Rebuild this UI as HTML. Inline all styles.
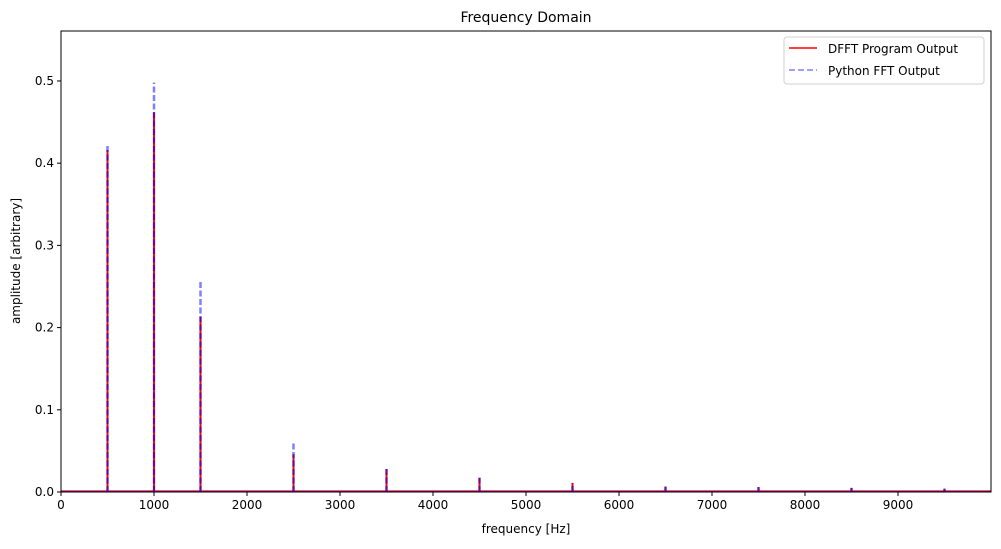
<!DOCTYPE html>
<html><head><meta charset="utf-8"><style>
body{margin:0;background:#fff;font-family:"DejaVu Sans","Liberation Sans",sans-serif;}
svg text{font-family:"DejaVu Sans","Liberation Sans",sans-serif;fill:#000}
</style></head><body>
<svg id="chart" width="1001" height="545" xmlns="http://www.w3.org/2000/svg">
<rect width="1001" height="545" fill="#fff"/>
<g id="plot"></g>
<rect x="61" y="31" width="930" height="461" fill="none" stroke="#000" stroke-width="1"/>
<text x="526" y="22" font-size="14" text-anchor="middle">Frequency Domain</text>
<text x="526" y="533" font-size="12" text-anchor="middle">frequency [Hz]</text>
<text transform="translate(20,261) rotate(-90)" font-size="12" text-anchor="middle">amplitude [arbitrary]</text>
<g id="axes"></g>
<g>
<rect x="784" y="37" width="200" height="47" rx="3" fill="#fff" stroke="#ccc" stroke-opacity="0.9"/>
<line x1="789" y1="48" x2="817" y2="48" stroke="red" stroke-width="1.6"/>
<text x="828" y="53" font-size="12">DFFT Program Output</text>
<line x1="789" y1="70" x2="817" y2="70" stroke="#0000ff" stroke-opacity="0.5" stroke-width="1.6" stroke-dasharray="6,3"/>
<text x="828" y="75" font-size="12">Python FFT Output</text>
</g>
</svg>
<script>
const freqs=[500,1000,1500,2500,3500,4500,5500,6500,7500,8500,9500];
const pyVals=[0.422,0.498,0.256,0.061,0.029,0.018,0.011,0.007,0.006,0.005,0.004];
const dfftVals=[0.416,0.462,0.213,0.046,0.028,0.017,0.011,0.006,0.006,0.005,0.004];
const xTicks=[0,1000,2000,3000,4000,5000,6000,7000,8000,9000];
const yTicks=[0,0.1,0.2,0.3,0.4,0.5];
const X0=61,X1=991,Y0=492,Y1=31,XMAX=10000,YMAX=0.5608;
const xs=v=>X0+(v/XMAX)*(X1-X0);
const ys=v=>Y0-(v/YMAX)*(Y0-Y1);
const NS="http://www.w3.org/2000/svg";
const plot=document.getElementById('plot'),axes=document.getElementById('axes');
function mk(t,a,p){const e=document.createElementNS(NS,t);for(const k in a)e.setAttribute(k,a[k]);p.appendChild(e);return e;}
const base=mk('line',{x1:X0,y1:ys(0.001),x2:X1,y2:ys(0.001),stroke:'#c00050','stroke-width':1.5},plot);


freqs.forEach((f,i)=>{const x=xs(f);
const r=mk('line',{x1:x,y1:Y0,x2:x,y2:ys(dfftVals[i]),stroke:'red','stroke-width':2},plot);


const b=mk('line',{x1:x,y1:Y0,x2:x,y2:ys(pyVals[i]),stroke:'#0000ff','stroke-opacity':0.5,'stroke-width':2.5,'stroke-dasharray':'6,2.5'},plot);

});
xTicks.forEach(t=>{const x=xs(t);
mk('line',{x1:x,y1:Y0,x2:x,y2:Y0+4,stroke:'#000'},axes);
const tx=mk('text',{x:x,y:Y0+17,'font-size':12,'text-anchor':'middle'},axes);tx.textContent=t;

});
yTicks.forEach(t=>{const y=ys(t);
mk('line',{x1:X0-4,y1:y,x2:X0,y2:y,stroke:'#000'},axes);
const tx=mk('text',{x:X0-7,y:y+4,'font-size':12,'text-anchor':'end'},axes);tx.textContent=t.toFixed(1);

});
</script>
</body></html>
